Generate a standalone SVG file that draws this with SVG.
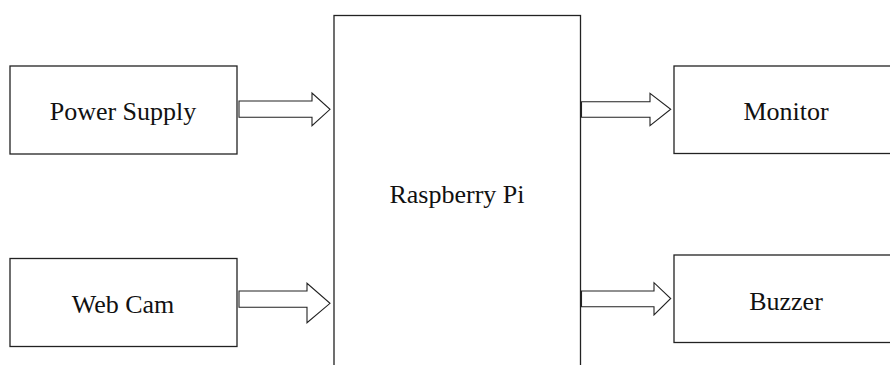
<svg xmlns="http://www.w3.org/2000/svg" width="890" height="365" viewBox="0 0 890 365">
<style>
.box{fill:#fff;stroke:#222;stroke-width:1.3}
.arr{fill:#fff;stroke:#222;stroke-width:1.1;stroke-linejoin:miter}
text{font-family:"Liberation Serif","Times New Roman",serif;font-size:26px;fill:#111;text-anchor:middle}
</style>
<rect width="890" height="365" fill="#fff"/>
<g id="power-supply"><rect class="box" x="10" y="66" width="227" height="88"/><text x="123" y="120">Power Supply</text></g>
<g id="web-cam"><rect class="box" x="10" y="258.5" width="227" height="88"/><text x="123" y="313">Web Cam</text></g>
<g id="raspberry-pi"><rect class="box" x="334" y="15.5" width="246.5" height="360"/><text x="457" y="203">Raspberry Pi</text></g>
<g id="monitor"><rect class="box" x="674" y="66" width="226" height="87.5"/><text x="786" y="120">Monitor</text></g>
<g id="buzzer"><rect class="box" x="674" y="255" width="226" height="87.5"/><text x="786" y="310">Buzzer</text></g>
<g id="connectors">
<polygon class="arr" points="239,101 312,101 312,93 330,109.3 312,125.7 312,117.3 239,117.3"/>
<polygon class="arr" points="239,291 307,291 307,283.3 330,303.3 307,322.7 307,307.3 239,307.3"/>
<polygon class="arr" points="581.5,101.7 650,101.7 650,93.3 670.7,109.3 650,125.7 650,117.3 581.5,117.3"/>
<polygon class="arr" points="581.5,291 654,291 654,282.7 670.7,298.5 654,315 654,306.7 581.5,306.7"/>
</g>
</svg>
